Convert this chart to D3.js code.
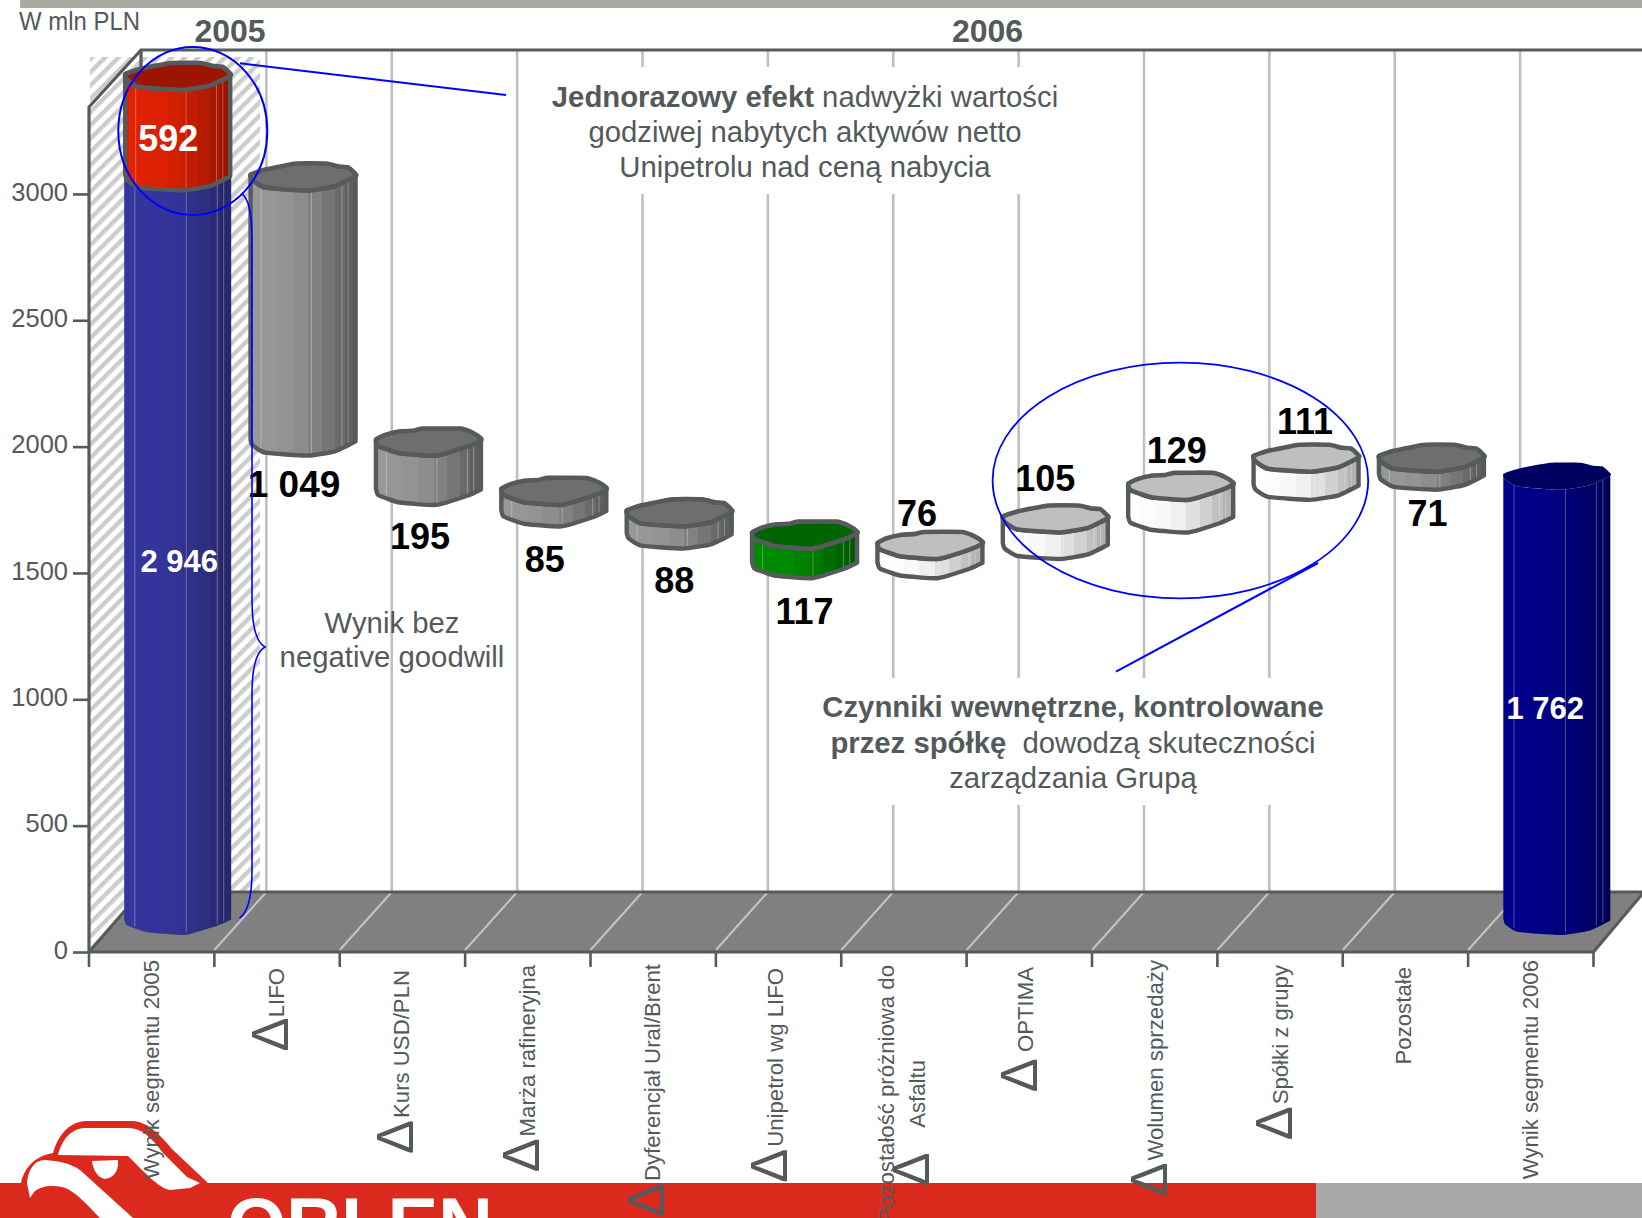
<!DOCTYPE html>
<html>
<head>
<meta charset="utf-8">
<script src="https://d3js.org/d3.v7.min.js"></script>
<style>
  html, body { margin: 0; padding: 0; background: #fff; }
  svg { display: block; }
  text { font-family: "Liberation Sans", Arial, sans-serif; }
</style>
</head>
<body>
<div id="chart"></div>
<script>
// Data
const categories = ["Wynik segmentu 2005", "LIFO", "Kurs USD/PLN", "Marża rafineryjna", "Dyferencjał Ural/Brent",
  "Unipetrol wg LIFO", "Pozostałość próżniowa do", "OPTIMA", "Wolumen sprzedaży", "Spółki z grupy", "Pozostałe", "Wynik segmentu 2006"];
const deltaMark = [false, true, true, true, true, true, false, true, true, true, false, false];
const changes = [2946, -1049, -195, -85, -88, -117, 76, 105, 129, 111, -71, 1762];
const valueLabels = ["2 946", "1 049", "195", "85", "88", "117", "76", "105", "129", "111", "71", "1 762"];
const oneOffValue = 592;
const kinds = ["blue", "grey", "grey", "grey", "grey", "green", "light", "light", "light", "light", "grey", "navy"];
const outlines = ["A", "B", "A", "A", "B", "A", "A", "B", "A", "B", "B", "B"];
const yTicks = [0, 500, 1000, 1500, 2000, 2500, 3000];
const years = ["2005", "2006"];

// Dimensions
const width = 1642;
const height = 1218;
const ink = "#54595b";
const wallDx = 52;
const wallDy = 60;
const barDepth = 27;

const x = d3.scaleBand().domain(categories).range([89, 1593.5]);
const y = d3.scaleLinear().domain([0, 3344]).range([952, 107]).clamp(true);
const edgeX = i => x.range()[0] + i * x.step();
const barCx = c => x(c) + x.bandwidth() / 2 + wallDx / 2;
const barFront = v => y(v) - 17;

const svg = d3.select("#chart").append("svg")
  .attr("width", width)
  .attr("height", height)
  .attr("viewBox", `0 0 ${width} ${height}`);

const defs = svg.append("defs");

defs.append("pattern")
  .attr("id", "hatch")
  .attr("patternUnits", "userSpaceOnUse")
  .attr("width", 9.4)
  .attr("height", 9.4)
  .attr("patternTransform", "rotate(45)")
  .append("rect")
    .attr("width", 4.4)
    .attr("height", 9.4)
    .attr("fill", "#cccccc");

// Bar colours, side shading runs from left to right
const palette = {
  blue: { side: ["#35369e", "#27286a"], top: "#2d2e80", stroke: "none", w: 107 },
  red: { side: ["#e02202", "#9a1400"], top: "#9c1500", stroke: "#555a5c", w: 105 },
  grey: { side: ["#989898", "#5f5f5f"], top: "#6e6e6e", stroke: "#555a5c", w: 105 },
  green: { side: ["#008c00", "#005800"], top: "#006400", stroke: "#555a5c", w: 105 },
  light: { side: ["#ffffff", "#b2b2b2"], top: "#bfbfbf", stroke: "#555a5c", w: 105 },
  navy: { side: ["#00008a", "#00005a"], top: "#000060", stroke: "none", w: 107 }
};
const facetStops = [0, 0.1, 0.25, 0.4, 0.55, 0.68, 0.8, 0.9, 1];

Object.entries(palette).forEach(([name, p]) => {
  const mix = d3.interpolateRgb(p.side[0], p.side[1]);
  const grad = defs.append("linearGradient").attr("id", `side-${name}`);
  facetStops.slice(0, -1).forEach((s, i) => {
    const col = mix(i < 3 ? i * 0.04 : (i - 2) / 5);
    grad.append("stop").attr("offset", s).attr("stop-color", col);
    grad.append("stop").attr("offset", facetStops[i + 1]).attr("stop-color", col);
  });
});

// Wobbly top outlines of the bars, in units of bar width and depth
const shapes = {
  A: {
    back: [[0, 0.41], [0.08, 0.24], [0.23, 0.1], [0.35, 0.08], [0.44, 0], [0.81, 0], [0.93, 0.17], [1, 0.36]],
    front: [[1, 0.43], [0.87, 0.66], [0.57, 1], [0.23, 0.91], [0.11, 0.77], [0.02, 0.63], [0, 0.41]]
  },
  B: {
    back: [[0, 0.41], [0.14, 0.22], [0.44, 0], [0.72, 0], [0.84, 0.11], [0.93, 0.14], [1, 0.39]],
    front: [[1, 0.47], [0.81, 0.83], [0.54, 1], [0.14, 0.89], [0.02, 0.62], [0, 0.41]]
  }
};
const facetLines = [0.1, 0.58, 0.87, 0.93];
const place = (pts, cx, front, w) => pts.map(([u, v]) => [cx + (u - 0.5) * w, front - barDepth * (1 - v)]);
const edgeLine = d3.line().curve(d3.curveCardinal.tension(0.55));
const ringLine = d3.line().curve(d3.curveCardinalClosed.tension(0.55));

// Bottom strip and logo go under the rotated labels
const footer = svg.append("g");
footer.append("rect").attr("x", 0).attr("y", 1183).attr("width", 1316).attr("height", 35).attr("fill", "#dc291e");
footer.append("rect").attr("x", 1316).attr("y", 1183).attr("width", 326).attr("height", 35).attr("fill", "#a9a9a9");
footer.append("path")
  .attr("fill", "#dc291e")
  .attr("d", "M21,1183 C24,1168 35,1156 53,1153 C58,1136 68,1122 86,1121 L133,1121 C146,1122 156,1130 173,1150 L208,1183 Z");
footer.append("path")
  .attr("fill", "#fff")
  .attr("d", "M58,1155 C62,1140 70,1129 85,1128 L130,1128 C142,1129 150,1136 163,1153 L187,1177 L200,1183 L190,1188 L170,1190 C160,1188 152,1180 128,1156 Z");
footer.append("path")
  .attr("fill", "#fff")
  .attr("d", "M27,1183 C28,1172 33,1160 45,1160 C58,1161 70,1163 80,1170 L133,1218 L100,1218 C90,1208 75,1190 62,1187 C52,1185 40,1186 34,1192 L30,1198 Z");
footer.append("path")
  .attr("fill", "#fff")
  .attr("d", "M92,1161 L118,1160 C119,1170 114,1178 105,1179 C98,1178 93,1170 92,1161 Z");
footer.append("text")
  .attr("x", 227).attr("y", 1251)
  .attr("font-size", 76).attr("font-weight", 700).attr("fill", "#fff")
  .text("ORLEN");

svg.append("rect").attr("x", 20).attr("y", 0).attr("width", 1622).attr("height", 8).attr("fill", "#aaaaa4");

// Back wall, hatch and floor
svg.append("rect").attr("x", 90).attr("y", 57).attr("width", 170).attr("height", 893).attr("fill", "url(#hatch)");

const wallEdges = d3.range(13);
const gaps = [
  { from: 4, to: 7, y0: 67, y1: 194 },
  { from: 6, to: 9, y0: 678, y1: 805 }
];
svg.append("g").selectAll("path")
  .data(wallEdges.filter(i => i > 0 && i < 12))
  .join("path")
    .attr("fill", "none")
    .attr("stroke", "#c0c0c0")
    .attr("stroke-width", 2.6)
    .attr("d", i => {
      const gx = edgeX(i) + wallDx;
      let d = `M${gx},50`;
      gaps.filter(g => i >= g.from && i <= g.to).forEach(g => { d += `V${g.y0}M${gx},${g.y1}`; });
      return d + `V${y(0) - wallDy}`;
    });

svg.append("path")
  .attr("fill", "#808080")
  .attr("d", `M${edgeX(0)},${y(0)}L${edgeX(0) + wallDx},${y(0) - wallDy}H${width + 2}L${edgeX(12)},${y(0)}Z`);

svg.append("g").selectAll("line")
  .data(wallEdges.filter(i => i > 0 && i < 12))
  .join("line")
    .attr("x1", i => edgeX(i))
    .attr("y1", y(0) - 2)
    .attr("x2", i => edgeX(i) + wallDx)
    .attr("y2", y(0) - wallDy)
    .attr("stroke", "#c4c4c4")
    .attr("stroke-width", 2);

const frameLine = d => svg.append("path")
  .attr("fill", "none")
  .attr("stroke", "#555a5c")
  .attr("stroke-width", 3.2)
  .attr("d", d);

frameLine(`M${edgeX(0) + wallDx},${y(0) - wallDy}H${width}`);
frameLine(`M${width + 2},${y(0) - wallDy}L${edgeX(12)},${y(0)}H${edgeX(0)}`);
frameLine(`M${edgeX(0)},${y(0)}L${edgeX(0) + wallDx},${y(0) - wallDy}`);
frameLine(`M${edgeX(0)},${y(0)}V${y(3344)}L${edgeX(0) + wallDx},50H${width}`);
frameLine(`M${edgeX(0) + wallDx},50V72`);

// X axis ticks at the edges of the categories
svg.append("g").selectAll("line")
  .data(wallEdges)
  .join("line")
    .attr("x1", i => edgeX(i))
    .attr("x2", i => edgeX(i))
    .attr("y1", y(0))
    .attr("y2", 967)
    .attr("stroke", "#555a5c")
    .attr("stroke-width", 2.6);

// Y axis
const yAxis = svg.append("g")
  .attr("transform", `translate(${edgeX(0)},0)`)
  .call(d3.axisLeft(y).tickValues(yTicks).tickSize(16).tickPadding(5).tickFormat(d3.format("d")));
yAxis.select(".domain").remove();
yAxis.selectAll("line").attr("stroke", "#555a5c").attr("stroke-width", 2.6);
yAxis.selectAll("text")
  .attr("fill", ink)
  .attr("font-size", 25.5)
  .attr("dy", "0.24em")
  .attr("font-family", "\"Liberation Sans\", Arial, sans-serif");

// Running totals for the waterfall
let running = 0;
const bars = categories.map((c, i) => {
  const isTotal = i === 0 || i === categories.length - 1;
  const start = isTotal ? 0 : running;
  const end = isTotal ? changes[i] : running + changes[i];
  running = end;
  return { c, i, kind: kinds[i], shape: shapes[outlines[i]], lo: Math.min(start, end), hi: Math.max(start, end) };
});
bars.push({
  c: categories[0], i: 0, kind: "red", shape: shapes.B,
  lo: changes[0], hi: changes[0] + oneOffValue
});

const drawBar = (sel) => {
  sel.each(function(d) {
    const g = d3.select(this);
    const p = palette[d.kind];
    const cx = barCx(d.c);
    const top = place(d.shape.front, cx, barFront(d.hi), p.w);
    const bottom = place(d.shape.front, cx, barFront(d.lo), p.w);
    g.append("path")
      .attr("fill", `url(#side-${d.kind})`)
      .attr("stroke", p.stroke)
      .attr("stroke-width", 4.4)
      .attr("stroke-linejoin", "round")
      .attr("d", `${edgeLine(top)}L${edgeLine(bottom.slice().reverse()).slice(1)}Z`);
    const fu = d3.scaleLinear().domain(d.shape.front.map(q => q[0])).range(d.shape.front.map(q => q[1]));
    g.selectAll("line")
      .data(facetLines)
      .join("line")
        .attr("x1", u => cx + (u - 0.5) * p.w)
        .attr("x2", u => cx + (u - 0.5) * p.w)
        .attr("y1", u => barFront(d.hi) - barDepth * (1 - fu(u)))
        .attr("y2", u => barFront(d.lo) - barDepth * (1 - fu(u)) - 2)
        .attr("stroke", "#fff")
        .attr("stroke-opacity", 0.3)
        .attr("stroke-width", 1);
    g.append("path")
      .attr("fill", p.top)
      .attr("stroke", p.stroke)
      .attr("stroke-width", 4.6)
      .attr("stroke-linejoin", "round")
      .attr("d", ringLine(place(d.shape.back.concat(d.shape.front.slice(0, -1)), cx, barFront(d.hi), p.w)));
  });
};

svg.append("g").selectAll("g")
  .data(bars)
  .join("g")
    .call(drawBar);

// Value labels, offsets are relative to the end of each bar
const labelOffsets = [[1.5, -8], [-9, 41], [-8.5, 44], [-9, 46], [-5, 44], [0, 46], [-13, -5], [-10, -13], [-4, -9], [-1, -10], [-4, 36], [-11.5, -10]];
const labelSizes = [31, 37, 36, 36, 36, 36, 36, 36, 36, 36, 36, 31];
const valueAnchor = d => {
  if (d.i === 0 || d.i === 11) return y((d.lo + d.hi) / 2);
  return changes[d.i] < 0 ? barFront(d.lo) : barFront(d.hi) - barDepth - 1;
};

svg.append("g").selectAll("text")
  .data(bars.slice(0, 12))
  .join("text")
    .attr("x", d => barCx(d.c) + labelOffsets[d.i][0])
    .attr("y", d => valueAnchor(d) + labelOffsets[d.i][1])
    .attr("text-anchor", "middle")
    .attr("font-size", d => labelSizes[d.i])
    .attr("font-weight", 700)
    .attr("fill", d => (d.i === 0 || d.i === 11) ? "#fff" : "#000")
    .text(d => valueLabels[d.i]);

svg.append("text")
  .attr("x", barCx(categories[0]) - 9.5)
  .attr("y", 151)
  .attr("text-anchor", "middle")
  .attr("font-size", 36)
  .attr("font-weight", 700)
  .attr("fill", "#fff")
  .text(oneOffValue);

// Category labels, rotated and hanging from the axis
const catDx = [7, 7, 7, 7, 7, 4, -10, 4, 8, 8, 6, 7];
const catTop = [960, 968, 970, 965, 964, 968, 965, 967, 960, 965, 967, 960];
const catGap = ["", "", "\u200a", "\u200a", "\u200a", "\u200a", "", "\u00a0", "\u200a", "\u200a", "", ""];
const triangle = "\u0394";
const triangleShift = 4;

const catLabels = svg.append("g").selectAll("text")
  .data(categories)
  .join("text")
    .attr("transform", (c, i) => `translate(${x(c) + x.bandwidth() / 2 + catDx[i]},${catTop[i]}) rotate(-90)`)
    .attr("text-anchor", "end")
    .attr("font-size", 22.2)
    .attr("fill", ink);
catLabels.filter((c, i) => deltaMark[i]).append("tspan")
  .attr("font-size", 51)
  .attr("dy", triangleShift)
  .text(triangle);
catLabels.append("tspan")
  .attr("dy", (c, i) => deltaMark[i] ? -triangleShift : 0)
  .text((c, i) => catGap[i] + c);

const wrapLabel = svg.append("text")
  .attr("transform", `translate(${x(categories[6]) + x.bandwidth() / 2 + 21},1060) rotate(-90)`)
  .attr("text-anchor", "end")
  .attr("font-size", 22.2)
  .attr("fill", ink);
wrapLabel.append("tspan").attr("font-size", 51).attr("dy", triangleShift).text(triangle);
wrapLabel.append("tspan").attr("dy", -triangleShift).text("\u00a0\u00a0\u00a0\u00a0Asfaltu");

// Header texts
svg.append("text").attr("x", 19).attr("y", 30).attr("font-size", 25).attr("fill", ink)
  .attr("textLength", 121).attr("lengthAdjust", "spacingAndGlyphs").text("W mln PLN");
svg.append("g").selectAll("text")
  .data(years)
  .join("text")
    .attr("x", (d, i) => [230, 987.5][i])
    .attr("y", 42)
    .attr("text-anchor", "middle")
    .attr("font-size", 32)
    .attr("font-weight", 700)
    .attr("fill", ink)
    .text(d => d);

// Annotations
const noteText = (cx, baseline, runs, size = 29.3) => {
  const t = svg.append("text")
    .attr("x", cx)
    .attr("y", baseline)
    .attr("text-anchor", "middle")
    .attr("font-size", size)
    .attr("fill", ink);
  runs.forEach(([s, bold]) => {
    t.append("tspan").attr("font-weight", bold ? 700 : 400).text(s);
  });
};
noteText(805, 107, [["Jednorazowy efekt", true], [" nadwyżki wartości", false]]);
noteText(805, 142, [["godziwej nabytych aktywów netto", false]]);
noteText(805, 177, [["Unipetrolu nad ceną nabycia", false]]);
noteText(1073, 717, [["Czynniki wewnętrzne, kontrolowane", true]]);
noteText(1073, 753, [["przez spółkę", true], ["\u00a0\u00a0dowodzą skuteczności", false]]);
noteText(1073, 788, [["zarządzania Grupą", false]]);
noteText(392, 633, [["Wynik bez", false]]);
noteText(392, 667, [["negative goodwill", false]]);

const blue = "#0000ff";
const callouts = svg.append("g").attr("fill", "none").attr("stroke", blue);
callouts.append("ellipse").attr("cx", 192.8).attr("cy", 131).attr("rx", 74.5).attr("ry", 84).attr("stroke-width", 2);
callouts.append("ellipse").attr("cx", 1180.4).attr("cy", 480.5).attr("rx", 187.8).attr("ry", 117.8).attr("stroke-width", 1.8);
callouts.append("path").attr("stroke-width", 2).attr("d", "M240,63.3L506,95");
callouts.append("path").attr("stroke-width", 2).attr("d", "M1116,671.7L1318,563");
callouts.append("path").attr("stroke-width", 1.6)
  .attr("d", "M241.5,193.5 Q252,200 252,240 L252,600 Q252,640 265,647 Q252,654 252,694 L252,870 Q252,910 239.5,918");
</script>
</body>
</html>
